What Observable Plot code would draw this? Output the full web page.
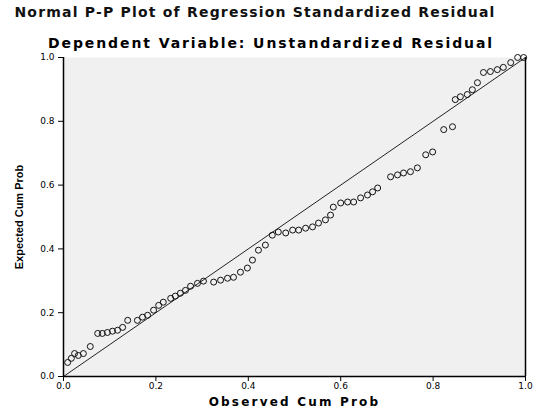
<!DOCTYPE html>
<html>
<head>
<meta charset="utf-8">
<script src="https://cdn.jsdelivr.net/npm/d3@7"></script>
<script src="https://cdn.jsdelivr.net/npm/@observablehq/plot@0.6"></script>
<style>
  body { margin: 0; background: #ffffff; }
  #wrap { position: relative; width: 537px; height: 414px; background: #fff; font-family: "DejaVu Sans", sans-serif; }
  #title { position: absolute; top: 4px; left: 0; width: 510px; text-align: center; font-size: 14px; letter-spacing: 1.2px; font-weight: bold; color: #111; white-space: nowrap; }
  #subtitle { position: absolute; top: 35px; left: 0; width: 542px; text-align: center; font-size: 14px; letter-spacing: 1.9px; font-weight: bold; color: #000; white-space: nowrap; }
  #chart { position: absolute; top: 50px; left: 0; }
</style>
</head>
<body>
<div id="wrap">
  <div id="title">Normal P-P Plot of Regression Standardized Residual</div>
  <div id="subtitle">Dependent Variable: Unstandardized Residual</div>
  <div id="chart"></div>
</div>
<script>
// Observed cumulative probability (x) and expected cumulative probability (y)
const observedCumProb = [
  0.009, 0.017, 0.024, 0.032, 0.043, 0.058, 0.074, 0.084, 0.095, 0.106,
  0.117, 0.128, 0.139, 0.160, 0.171, 0.182, 0.195, 0.206, 0.216, 0.232,
  0.242, 0.253, 0.264, 0.275, 0.290, 0.303, 0.325, 0.340, 0.355, 0.368,
  0.383, 0.398, 0.409, 0.422, 0.437, 0.452, 0.465, 0.481, 0.496, 0.509,
  0.524, 0.539, 0.552, 0.567, 0.578, 0.584, 0.600, 0.615, 0.628, 0.643,
  0.658, 0.669, 0.680, 0.708, 0.723, 0.736, 0.751, 0.766, 0.784, 0.799,
  0.823, 0.842, 0.848, 0.859, 0.874, 0.885, 0.896, 0.909, 0.924, 0.939,
  0.952, 0.968, 0.983, 0.996
];
const expectedCumProb = [
  0.044, 0.057, 0.072, 0.066, 0.072, 0.094, 0.135, 0.135, 0.138, 0.142,
  0.145, 0.154, 0.176, 0.176, 0.186, 0.192, 0.208, 0.223, 0.233, 0.245,
  0.252, 0.261, 0.270, 0.283, 0.292, 0.299, 0.296, 0.302, 0.308, 0.311,
  0.327, 0.340, 0.365, 0.396, 0.412, 0.443, 0.453, 0.450, 0.459, 0.459,
  0.465, 0.469, 0.481, 0.491, 0.506, 0.531, 0.544, 0.547, 0.547, 0.560,
  0.569, 0.579, 0.591, 0.626, 0.632, 0.638, 0.642, 0.654, 0.695, 0.704,
  0.774, 0.783, 0.868, 0.877, 0.884, 0.899, 0.921, 0.953, 0.956, 0.962,
  0.969, 0.984, 1.000, 1.000
];
const referenceLine = [0, 1];
const xTicks = [0, 0.2, 0.4, 0.6, 0.8, 1.0];
const yTicks = [0, 0.2, 0.4, 0.6, 0.8, 1.0];
const xLabel = "Observed Cum Prob";
const yLabel = "Expected Cum Prob";

const points = observedCumProb.map((x, i) => ({x, y: expectedCumProb[i]}));
const diag = referenceLine.map(v => ({x: v, y: v}));

const chart = Plot.plot({
  width: 537,
  height: 364,
  marginTop: 7,
  marginBottom: 38,
  marginLeft: 63,
  marginRight: 12,
  style: { fontFamily: "DejaVu Sans, sans-serif", fontSize: "9px", color: "#000", background: "transparent" },
  x: { domain: [0, 1] },
  y: { domain: [0, 1] },
  marks: [
    Plot.frame({ fill: "#f0f0f0", stroke: null }),
    Plot.line(diag, { x: "x", y: "y", stroke: "#222", strokeWidth: 1 }),
    Plot.dot(points, { x: "x", y: "y", r: 3, stroke: "#111", strokeWidth: 1, fill: "none" }),
    Plot.ruleX([0], { stroke: "#000", strokeWidth: 1.5 }),
    Plot.ruleX([1], { stroke: "#000", strokeWidth: 1.5 }),
    Plot.ruleY([0], { stroke: "#000", strokeWidth: 1.5 }),
    Plot.axisX({ ticks: xTicks, tickFormat: d3.format(".1f"), tickSize: 5, tickPadding: 1, label: null, fontSize: 9 }),
    Plot.axisY({ ticks: yTicks, tickFormat: d3.format(".1f"), tickSize: 5, tickPadding: 4, label: null, fontSize: 9 }),
    Plot.text([xLabel], { frameAnchor: "bottom", dy: 29, fontSize: 12, fontWeight: "bold", fill: "#000", textAnchor: "middle" }),
    Plot.text([yLabel], { frameAnchor: "left", dx: -44, rotate: -90, textAnchor: "middle", fontSize: 11, fontWeight: "bold", fill: "#000", fontFamily: "Liberation Sans Narrow, Liberation Sans, sans-serif" })
  ]
});
d3.select(chart).selectAll("text")
  .filter(function () { return this.textContent === xLabel; })
  .style("letter-spacing", "2.2px");
document.getElementById("chart").appendChild(chart);
</script>
</body>
</html>
